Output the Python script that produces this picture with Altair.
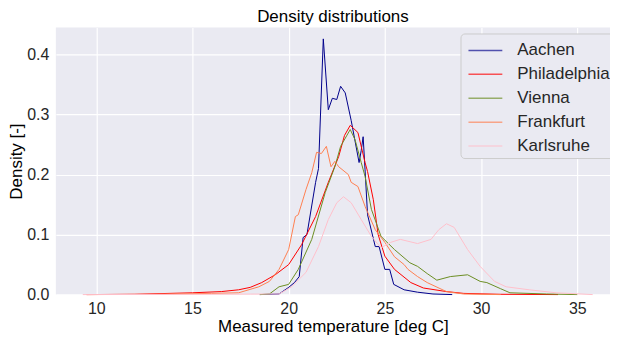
import altair as alt
import pandas as pd

cities = ["Aachen", "Philadelphia", "Vienna", "Frankfurt", "Karlsruhe"]
colors = ["#00008B", "#FF0000", "#6B8E23", "#FF7F50", "#FFC0CB"]

aachen_x = [18.5, 19.5, 20.0, 20.3, 20.55, 20.75, 20.95, 21.4, 21.55, 21.8, 22.06, 22.27, 22.5, 22.7, 22.94,
            23.25, 23.66, 23.77, 23.87, 23.97, 24.1, 24.5, 24.7, 25.0, 25.25, 25.46, 26.0, 26.7, 27.5, 28.5]
aachen_y = [0.0, 0.001, 0.012, 0.02, 0.03, 0.095, 0.1, 0.187, 0.21, 0.426, 0.308, 0.327, 0.325, 0.347, 0.336,
            0.29, 0.22, 0.24, 0.263, 0.208, 0.133, 0.08, 0.08, 0.042, 0.042, 0.017, 0.008, 0.004, 0.001, 0.0]

phil_x = [9.5, 12.0, 15.0, 16.5, 17.4, 18.0, 18.6, 19.3, 20.0, 20.67, 21.4, 22.06, 22.6, 22.9, 23.2, 23.6,
          23.97, 24.1, 24.4, 24.65, 25.0, 25.5, 26.35, 27.0, 28.2, 29.1, 31.0, 34.0]
phil_y = [0.0, 0.0005, 0.003, 0.005, 0.008, 0.012, 0.02, 0.033, 0.05, 0.083, 0.13, 0.187, 0.23, 0.265, 0.282, 0.27,
          0.22, 0.205, 0.158, 0.1, 0.064, 0.042, 0.02, 0.011, 0.005, 0.002, 0.0005, 0.0]

vienna_x = [18.5, 19.0, 19.5, 20.0, 20.5, 21.2, 21.9, 22.4, 22.7, 23.2, 23.45, 23.77, 23.97, 24.3, 24.8, 25.5,
            26.3, 26.7, 27.2, 27.7, 28.4, 29.3, 29.95, 30.3, 31.0, 31.5, 33.4, 35.0]
vienna_y = [0.0, 0.001, 0.013, 0.017, 0.042, 0.092, 0.17, 0.213, 0.247, 0.275, 0.258, 0.22, 0.197, 0.142, 0.097, 0.075,
            0.053, 0.047, 0.035, 0.024, 0.03, 0.033, 0.022, 0.02, 0.01, 0.003, 0.001, 0.0]

frank_x = [9.5, 13.0, 16.0, 17.4, 18.45, 19.0, 19.5, 20.0, 20.35, 20.5, 20.9, 21.2, 21.45, 21.7, 21.96, 22.2,
           22.4, 22.6, 23.1, 23.25, 23.6, 23.97, 24.5, 25.0, 25.5, 26.0, 26.2, 26.7, 27.2, 28.2, 29.1, 31.0]
frank_y = [0.0, 0.0005, 0.002, 0.003, 0.013, 0.022, 0.042, 0.075, 0.13, 0.133, 0.175, 0.203, 0.237, 0.235, 0.247, 0.213,
           0.222, 0.213, 0.2, 0.187, 0.18, 0.147, 0.108, 0.087, 0.063, 0.05, 0.042, 0.03, 0.02, 0.005, 0.001, 0.0]

karl_x = [9.3, 14.0, 18.0, 19.5, 20.15, 20.9, 21.55, 22.06, 22.5, 22.85, 23.25, 23.77, 24.3, 24.8, 25.3, 25.8,
          26.7, 27.4, 27.8, 28.2, 28.6, 29.3, 29.95, 30.7, 31.3, 32.5, 33.9, 35.8]
karl_y = [0.0, 0.0003, 0.0008, 0.001, 0.013, 0.037, 0.08, 0.125, 0.153, 0.163, 0.153, 0.125, 0.097, 0.078, 0.087, 0.092,
          0.085, 0.092, 0.108, 0.118, 0.112, 0.075, 0.047, 0.022, 0.013, 0.008, 0.003, 0.0]

series = [(aachen_x, aachen_y), (phil_x, phil_y), (vienna_x, vienna_y), (frank_x, frank_y), (karl_x, karl_y)]
rows = []
for ci, (city, (xs, ys)) in enumerate(zip(cities, series)):
    for i, (x, y) in enumerate(zip(xs, ys)):
        rows.append({"city": city, "temp": x, "density": y, "ci": ci, "i": i})
df = pd.DataFrame(rows)

FONT = "Liberation Sans"

chart = alt.Chart(df).mark_line(strokeWidth=1).encode(
    x=alt.X("temp:Q", scale=alt.Scale(domain=[7.9, 36.7], nice=False, zero=False),
            axis=alt.Axis(values=[10, 15, 20, 25, 30, 35], title="Measured temperature [deg C]")),
    y=alt.Y("density:Q", scale=alt.Scale(domain=[0, 0.445], nice=False),
            axis=alt.Axis(values=[0.0, 0.1, 0.2, 0.3, 0.4], format=".1f", title="Density [-]")),
    color=alt.Color("city:N", scale=alt.Scale(domain=cities, range=colors),
                    legend=alt.Legend(title=None, orient="none", legendX=406, legendY=6,
                                      symbolType="M-0.75,0H2.08", symbolSize=576, symbolStrokeWidth=1.5,
                                      symbolOpacity=0.65,
                                      labelFontSize=17, labelFont=FONT, labelColor="#262626",
                                      rowPadding=3, labelOffset=27,
                                      fillColor="#EAEAF2", strokeColor="#CCCCCC", cornerRadius=4,
                                      padding=4)),
    detail="ci:O",
    order="i:Q",
).properties(
    width=556, height=268,
    title=alt.TitleParams("Density distributions", fontSize=17, font=FONT, fontWeight="normal",
                          color="black", offset=1),
    autosize=alt.AutoSizeParams(type="none"),
    padding={"left": 48, "top": 19, "right": 0, "bottom": 40},
).configure_view(
    fill="#EAEAF2", stroke=None
).configure_axis(
    domain=False, ticks=False, grid=True, gridColor="white", gridWidth=1.2,
    labelFont=FONT, labelFontSize=16, labelColor="#262626", labelPadding=7,
    titleFont=FONT, titleFontSize=17, titleFontWeight="normal", titleColor="black",
).configure_axisX(titlePadding=2, labelPadding=6).configure_axisY(titlePadding=1)

chart.save("out.html", embed_options={"renderer": "svg", "actions": False})
